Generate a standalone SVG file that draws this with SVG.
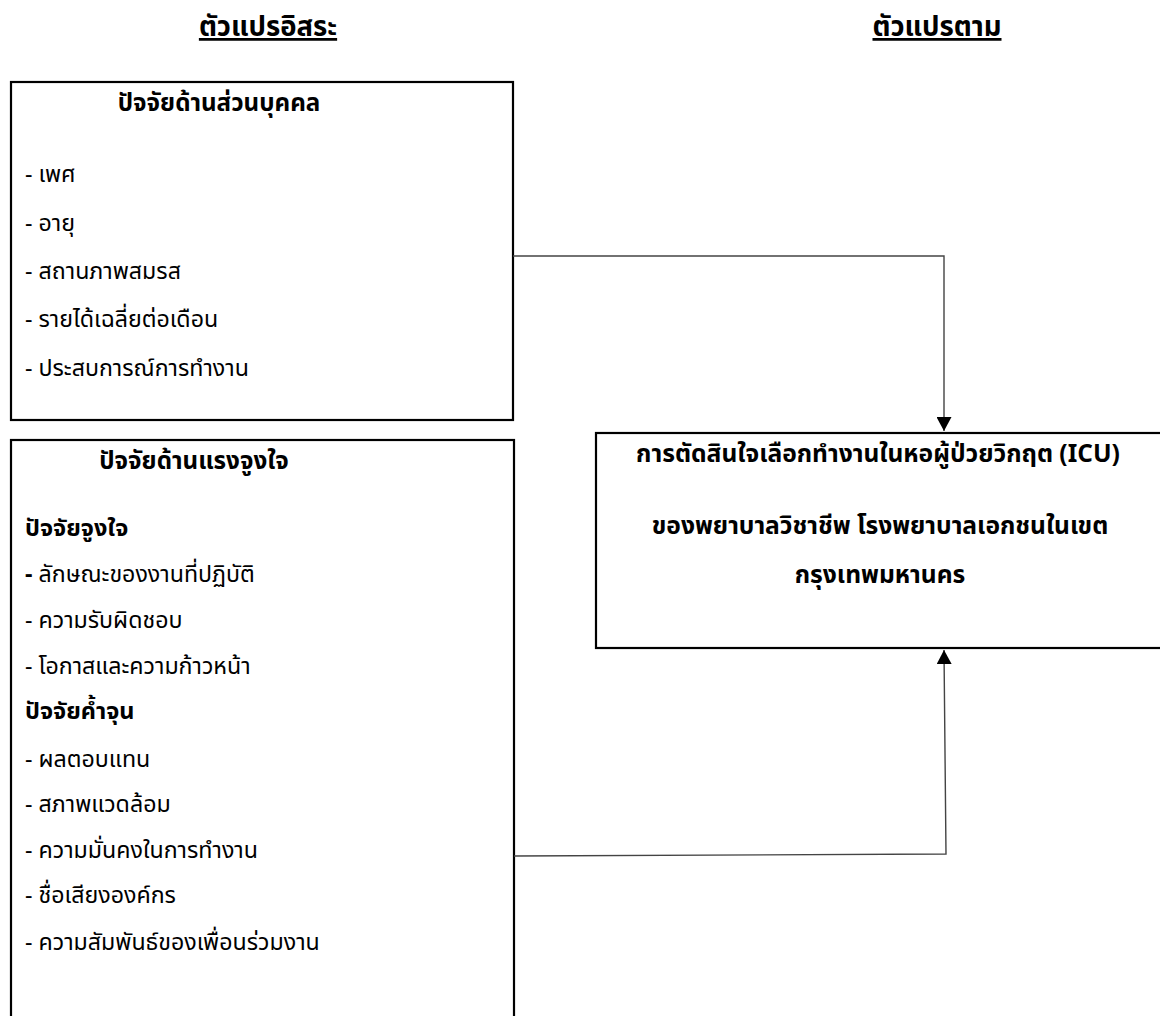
<svg xmlns="http://www.w3.org/2000/svg" width="1160" height="1016" viewBox="0 0 1160 1016">
  <style>
    text { font-family: "Noto Sans Thai", "Noto Sans Thai UI", "Noto Sans", "DejaVu Sans", sans-serif; font-size: 23.2px; fill: #000; }
    .b { font-weight: bold; }
    .h { font-weight: bold; font-size: 24.2px; }
    .s { font-weight: bold; font-size: 23.5px; }
    .t { font-weight: bold; font-size: 27.5px; text-decoration: underline; }
    .d { font-weight: bold; font-size: 24.6px; }
    .c { text-anchor: middle; }
    .box { fill: #fff; stroke: #000; stroke-width: 2.2; }
    .conn { fill: none; stroke: #444; stroke-width: 1.4; }
  </style>
  <defs>
    <marker id="arr" markerWidth="14" markerHeight="15" refX="14" refY="7.5" orient="auto" markerUnits="userSpaceOnUse" viewBox="0 0 14 15">
      <path d="M0,0 L14,7.5 L0,15 Z" fill="#000"/>
    </marker>
  </defs>
  <rect width="1160" height="1016" fill="#fff"/>

  <g id="title-independent">
    <text class="t c" x="268" y="36">ตัวแปรอิสระ</text>
  </g>
  <g id="title-dependent">
    <text class="t c" x="937" y="36">ตัวแปรตาม</text>
  </g>

  <g id="personal-factors">
    <rect class="box" x="11" y="82" width="502" height="338"/>
    <text class="h c" x="219" y="111">ปัจจัยด้านส่วนบุคคล</text>
    <text x="25" y="182">- เพศ</text>
    <text x="25" y="231">- อายุ</text>
    <text x="25" y="279">- สถานภาพสมรส</text>
    <text x="25" y="327">- รายได้เฉลี่ยต่อเดือน</text>
    <text x="25" y="376">- ประสบการณ์การทำงาน</text>
  </g>

  <g id="motivation-factors">
    <rect class="box" x="11" y="440" width="503" height="600"/>
    <text class="h c" x="194" y="469">ปัจจัยด้านแรงจูงใจ</text>
    <text class="s" x="25" y="536">ปัจจัยจูงใจ</text>
    <text x="25" y="582"><tspan class="b">-</tspan> ลักษณะของงานที่ปฏิบัติ</text>
    <text x="25" y="628">- ความรับผิดชอบ</text>
    <text x="25" y="674">- โอกาสและความก้าวหน้า</text>
    <text class="s" x="25" y="719">ปัจจัยค้ำจุน</text>
    <text x="25" y="767">- ผลตอบแทน</text>
    <text x="25" y="812">- สภาพแวดล้อม</text>
    <text x="25" y="858">- ความมั่นคงในการทำงาน</text>
    <text x="25" y="903">- ชื่อเสียงองค์กร</text>
    <text x="25" y="950">- ความสัมพันธ์ของเพื่อนร่วมงาน</text>
  </g>

  <g id="decision">
    <rect class="box" x="596" y="433" width="570" height="215"/>
    <text class="d c" x="878" y="462">การตัดสินใจเลือกทำงานในหอผู้ป่วยวิกฤต (ICU)</text>
    <text class="d c" x="880" y="534">ของพยาบาลวิชาชีพ โรงพยาบาลเอกชนในเขต</text>
    <text class="d c" x="880" y="583">กรุงเทพมหานคร</text>
  </g>

  <g id="connectors">
    <polyline class="conn" points="513,256 944,256 944,431" marker-end="url(#arr)"/>
    <polyline class="conn" points="514,856 946,854 944,650" marker-end="url(#arr)"/>
  </g>
</svg>
